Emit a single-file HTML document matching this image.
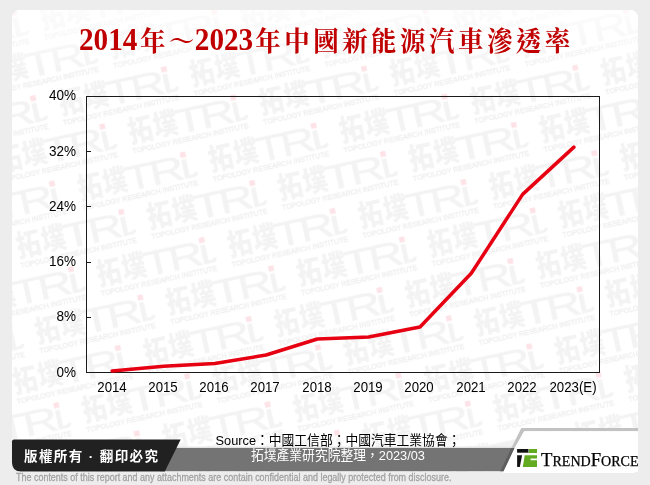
<!DOCTYPE html>
<html lang="zh-Hant">
<head>
<meta charset="utf-8">
<title>2014年～2023年中國新能源汽車滲透率</title>
<style>
html,body{margin:0;padding:0;}
body{width:650px;height:485px;background:#ededed;position:relative;overflow:hidden;font-family:"Liberation Sans","Noto Sans CJK TC",sans-serif;}
#card{position:absolute;left:12.3px;top:10px;width:625.7px;height:461.5px;background:#fff;border-radius:8px 8px 0 9px;overflow:hidden;}
#wm{position:absolute;left:-12.3px;top:-10px;width:650px;height:485px;}
#wm text{font-family:"Liberation Sans","Noto Sans CJK TC",sans-serif;fill:#f1f1f1;}
#wm .cj{font-size:29px;font-weight:900;fill:#f3f3f3;}
#wm .tr{font-size:34px;font-weight:normal;fill:#f3f3f3;stroke:#f3f3f3;stroke-width:0.35px;}
#wm .sb{font-size:7.5px;fill:#eeeeee;stroke:#eeeeee;stroke-width:0.3px;}
#title{position:absolute;left:79.2px;top:24px;text-align:left;font-family:"Liberation Serif","Noto Serif CJK SC",serif;font-weight:bold;font-size:27px;line-height:34px;color:#c00000;letter-spacing:3.7px;white-space:nowrap;transform:scaleX(0.943);transform-origin:0 50%;}
#title span{font-size:31px;letter-spacing:-0.05px;position:relative;top:-1.5px;}
#title .a{margin-right:3px;}
#title .b{margin-left:-3.4px;margin-right:2.3px;}
#chart{position:absolute;left:0;top:0;width:650px;height:485px;}
.yl{position:absolute;width:40px;text-align:right;font-size:14px;line-height:14px;color:#000;left:36px;transform:scaleX(0.965);transform-origin:100% 50%;}
.xl{position:absolute;width:60px;text-align:center;font-size:14px;line-height:14px;color:#000;top:380px;transform:scaleX(0.945);transform-origin:50% 50%;}
#src{position:absolute;left:25px;top:432.5px;width:626px;text-align:center;font-size:13.6px;line-height:15px;color:#000;white-space:nowrap;transform:scaleX(0.94);transform-origin:50% 50%;}
#src .l2{color:#fff;}
#cr{position:absolute;left:24px;top:449px;color:#fff;font-weight:bold;font-size:13.5px;line-height:16px;letter-spacing:1.4px;white-space:nowrap;}
#disc{position:absolute;left:15.6px;top:471.3px;font-size:10.6px;line-height:12px;color:#a2a2a2;-webkit-text-stroke:0.3px #a2a2a2;white-space:nowrap;transform:scaleX(0.846);transform-origin:0 50%;}
#tf{position:absolute;left:540.5px;top:449.6px;font-family:"Liberation Serif",serif;font-size:13.7px;line-height:20px;color:#000;-webkit-text-stroke:0.25px #000;white-space:nowrap;transform:scaleX(1.027);transform-origin:0 50%;}
#tf b{font-weight:normal;font-size:18.2px;}
</style>
</head>
<body>
<div id="card">
  <svg id="wm" viewBox="0 0 650 485">
    <defs>
      <pattern id="wmp" x="33.0" y="10.8" width="134" height="87.5" patternUnits="userSpaceOnUse">
        <g transform="translate(112,5)">
          <text class="cj" transform="translate(0,21.6) scale(0.84,1)" x="-130.6 -100.4">拓墣</text>
          <text class="tr" transform="translate(0,24.2) scale(1.42,1)" x="-43.8 -25.8 -3.8">TRi</text>
          <rect x="-36" y="0.4" width="5" height="2.8" fill="#f3f3f3"/>
          <path d="M2,24.2 H6 Q10,24.2 11,20 L8,19.4 Q7.4,21.2 5,21.2 H2 Z" fill="#f3f3f3"/>
          <rect x="-2.7" y="-2.9" width="5.5" height="5.5" fill="#fde3e7"/>
          <text class="sb" x="-110" y="32.6" textLength="119" lengthAdjust="spacingAndGlyphs">TOPOLOGY RESEARCH INSTITUTE</text>
        </g>
        <g transform="translate(39.5,47.6)">
          <text class="cj" transform="translate(0,21.6) scale(0.84,1)" x="-130.6 -100.4">拓墣</text>
          <text class="tr" transform="translate(0,24.2) scale(1.42,1)" x="-43.8 -25.8 -3.8">TRi</text>
          <rect x="-36" y="0.4" width="5" height="2.8" fill="#f3f3f3"/>
          <path d="M2,24.2 H6 Q10,24.2 11,20 L8,19.4 Q7.4,21.2 5,21.2 H2 Z" fill="#f3f3f3"/>
          <rect x="-2.7" y="-2.9" width="5.5" height="5.5" fill="#fde3e7"/>
          <text class="sb" x="-110" y="32.6" textLength="119" lengthAdjust="spacingAndGlyphs">TOPOLOGY RESEARCH INSTITUTE</text>
        </g>
        <g transform="translate(173.5,47.6)">
          <text class="cj" transform="translate(0,21.6) scale(0.84,1)" x="-130.6 -100.4">拓墣</text>
          <text class="tr" transform="translate(0,24.2) scale(1.42,1)" x="-43.8 -25.8 -3.8">TRi</text>
          <rect x="-36" y="0.4" width="5" height="2.8" fill="#f3f3f3"/>
          <path d="M2,24.2 H6 Q10,24.2 11,20 L8,19.4 Q7.4,21.2 5,21.2 H2 Z" fill="#f3f3f3"/>
          <rect x="-2.7" y="-2.9" width="5.5" height="5.5" fill="#fde3e7"/>
          <text class="sb" x="-110" y="32.6" textLength="119" lengthAdjust="spacingAndGlyphs">TOPOLOGY RESEARCH INSTITUTE</text>
        </g>
      </pattern>
    <linearGradient id="fade" x1="0" y1="0" x2="0" y2="1">
      <stop offset="0" stop-color="#fff" stop-opacity="0.72"/>
      <stop offset="0.35" stop-color="#fff" stop-opacity="0.5"/>
      <stop offset="1" stop-color="#fff" stop-opacity="0"/>
    </linearGradient>
    </defs>
    <g transform="rotate(-12.5)">
      <rect x="-150" y="-10" width="900" height="370" fill="url(#wmp)"/>
      <g transform="translate(28.7,-0.3)"><rect x="-150" y="360.3" width="900" height="300" fill="url(#wmp)"/></g>
    </g>
    <rect x="0" y="10" width="650" height="62" fill="url(#fade)"/>
  </svg>
</div>
<svg id="chart" viewBox="0 0 650 485">
  <!-- footer -->
  <polygon points="488,447.5 512,447.5 515.5,440" fill="#f1f1f1"/>
  <rect x="160" y="446.6" width="352" height="1.6" fill="#e2e2e2"/>
  <polygon points="160,448 514.7,448 503.7,471.2 160,471.2" fill="#747474"/>
  <polygon points="521.3,428 638,428 638,431.2 524.2,431.2 514.7,448 511.4,448" fill="#c2c2c2"/>
  <polygon points="511.4,448 514.7,448 503.7,471.2 500.3,471.2" fill="#5e5e5e"/>
  <polygon points="524.2,431.2 638,431.2 638,469 634,473 503,473 503.7,471.2 514.7,448" fill="#fff"/>
  <path d="M12,441.4 Q12,439.4 14,439.4 H180.7 L164.8,471.4 H21 Q12,471.4 12,462.4 Z" fill="#212121"/>
  <!-- plot -->
  <rect x="86.5" y="96.5" width="513" height="276" fill="none" stroke="#1a1a1a" stroke-width="1"/>
  <g stroke="#1a1a1a" stroke-width="1">
    <line x1="87" x2="91" y1="151.5" y2="151.5"/>
    <line x1="87" x2="91" y1="206.5" y2="206.5"/>
    <line x1="87" x2="91" y1="262.5" y2="262.5"/>
    <line x1="87" x2="91" y1="317.5" y2="317.5"/>
  </g>
  <polyline fill="none" stroke="#e60012" stroke-width="3.5" stroke-linecap="round" stroke-linejoin="round"
    points="112.2,370.9 163.5,366.3 214.8,363.5 266.1,355 317.4,339 368.7,337 420,327 471.3,273.3 522.6,194.4 573.9,147.1"/>
  <!-- TF icon -->
  <g>
    <polygon points="517.1,449 528.5,449 528.5,452.7 517.1,452.7" fill="#111"/>
    <path d="M517.1,455.2 H522.1 L519.8,467.1 H518 Q517.1,467.1 517.1,466.2 Z" fill="#111"/>
    <polygon points="529.2,449 537,449 537,452.9 528.7,452.9" fill="#62ab21"/>
    <path d="M524.7,455.2 H537 V458.4 H530.6 V460.3 H537 V467.1 H522.8 Z" fill="#62ab21"/>
  </g>
</svg>
<div id="title"><span class="a">2014</span>年～<span class="b">2023</span>年中國新能源汽車滲透率</div>
<div class="yl" style="top:88px">40%</div>
<div class="yl" style="top:144px">32%</div>
<div class="yl" style="top:199px">24%</div>
<div class="yl" style="top:254px">16%</div>
<div class="yl" style="top:309px">8%</div>
<div class="yl" style="top:365px">0%</div>
<div class="xl" style="left:82.0px">2014</div>
<div class="xl" style="left:133.1px">2015</div>
<div class="xl" style="left:183.8px">2016</div>
<div class="xl" style="left:234.5px">2017</div>
<div class="xl" style="left:287.0px">2018</div>
<div class="xl" style="left:338.0px">2019</div>
<div class="xl" style="left:388.7px">2020</div>
<div class="xl" style="left:440.5px">2021</div>
<div class="xl" style="left:492.0px">2022</div>
<div class="xl" style="left:543.4px">2023(E)</div>
<div id="cr">版權所有 · 翻印必究</div>
<div id="src">Source：中國工信部；中國汽車工業協會；<br><span class="l2">拓墣產業研究院整理，2023/03</span></div>
<div id="tf"><b>T</b>REND<b>F</b>ORCE</div>
<div id="disc">The contents of this report and any attachments are contain confidential and legally protected from disclosure.</div>
</body>
</html>
